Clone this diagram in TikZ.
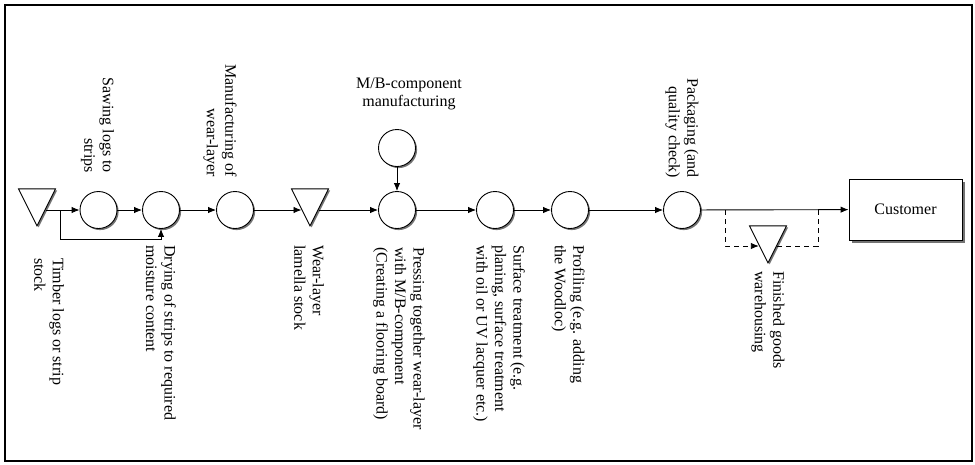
\documentclass[tikz,border=0pt]{standalone}
\usepackage{fontspec}
\setmainfont{Liberation Serif}
\usetikzlibrary{shapes.geometric,shadows,arrows.meta,calc}

\tikzset{
  flow/.style={line width=0.9pt, -{Latex[length=8pt,width=6.5pt]}},
  plain/.style={line width=0.9pt},
  dashflow/.style={line width=0.9pt, dash pattern=on 5pt off 4pt},
  shade/.style={drop shadow={shadow xshift=1.6pt, shadow yshift=-1.6pt, fill=black!55, opacity=1}},
  oper/.style={circle, draw, line width=0.9pt, fill=white, minimum size=37pt, inner sep=0pt, shade},
  stock/.style={isosceles triangle, isosceles triangle stretches, shape border rotate=270,
    draw, line width=0.9pt, fill=white, minimum width=37pt, minimum height=37pt,
    inner sep=0pt, anchor=apex, shade},
  client/.style={rectangle, draw, line width=0.9pt, fill=white, minimum width=113pt,
    minimum height=61pt, inner sep=0pt,
    drop shadow={shadow xshift=2.5pt, shadow yshift=-2.5pt, fill=black!55, opacity=1}},
  lab/.style={rotate=-90, inner sep=0pt, font=\fontsize{16}{18.5}\selectfont},
  labup/.style={lab, anchor=east, align=right},
  labdown/.style={lab, anchor=west, align=left},
}

\begin{document}
\begin{tikzpicture}[x=1pt, y=-1pt]
  % page frame
  \path[use as bounding box] (0,0) rectangle (975,464);
  \draw[line width=1.2pt] (5,5) rectangle (972,461);

  % stocks (triangles), operations (circles) and the customer
  \node[stock] (t1) at (37,227) {};
  \node[oper] (c1) at (98.5,210) {};
  \node[oper] (c2) at (161,210) {};
  \node[oper] (c3) at (235,210) {};
  \node[stock] (t2) at (310,227) {};
  \node[oper] (c4) at (397,210) {};
  \node[oper] (mb) at (397,148) {};
  \node[oper] (c5) at (495,210) {};
  \node[oper] (c6) at (570,210) {};
  \node[oper] (c7) at (682,210) {};
  \node[stock] (t3) at (768,264) {};
  \node[client, font=\fontsize{16}{18.5}\selectfont] (cust) at (905.5,209.5) {Customer};

  % points where lines meet the triangle sides
  \coordinate (t1out) at ($(t1.apex)+(8.7,-17)$);
  \coordinate (t2in)  at ($(t2.apex)+(-8.5,-17)$);
  \coordinate (t2out) at ($(t2.apex)+(8.5,-17)$);
  \coordinate (t3in)  at ($(t3.apex)+(-9.2,-18)$);
  \coordinate (t3out) at ($(t3.apex)+(9.2,-18)$);
  \coordinate (split) at (60,210);
  \coordinate (wout) at (725,210);
  \coordinate (win)  at (818,210);

  % main flow
  \draw[flow] (t1out) -- (c1);
  \draw[flow] (c1) -- (c2);
  \draw[flow] (split) |- (60,239) -| (c2.south);
  \draw[flow] (c2) -- (c3);
  \draw[flow] (c3) -- (t2in);
  \draw[flow] (t2out) -- (c4);
  \draw[flow] (mb) -- (c4);
  \draw[flow] (c4) -- (c5);
  \draw[flow] (c5) -- (c6);
  \draw[flow] (c6) -- (c7);
  \draw[flow] (c7) -- (cust);

  % optional route through the finished goods warehouse
  \draw[dashflow, -{Latex[length=8pt,width=6.5pt]}] (wout) |- (t3in);
  \draw[dashflow] (t3out) -| (win);

  % labels above the line
  \node[labup] at (97.5,173) {Sawing logs to\\strips};
  \node[labup] at (220,177) {Manufacturing of\\wear-layer};
  \node[labup] at (682,178) {Packaging (and\\quality check)};
  \node[align=center, inner sep=0pt, font=\fontsize{16}{18.5}\selectfont] at (409,94)
    {M/B-component\\manufacturing};

  % labels below the line
  \node[labdown] at (49,258) {Timber logs or strip\\stock};
  \node[labdown] at (161,245) {Drying of strips to required\\moisture content};
  \node[labdown] at (309,245) {Wear-layer\\lamella stock};
  \node[labdown] at (399,247) {Pressing together wear-layer\\with M/B-component\\(Creating a flooring board)};
  \node[labdown] at (499,245) {Surface treatment (e.g.\\planing, surface treatment\\with oil or UV lacquer etc.)};
  \node[labdown] at (568,245) {Profiling (e.g. adding\\the Woodloc)};
  \node[labdown] at (768,271) {Finished goods\\warehousing};
\end{tikzpicture}
\end{document}
